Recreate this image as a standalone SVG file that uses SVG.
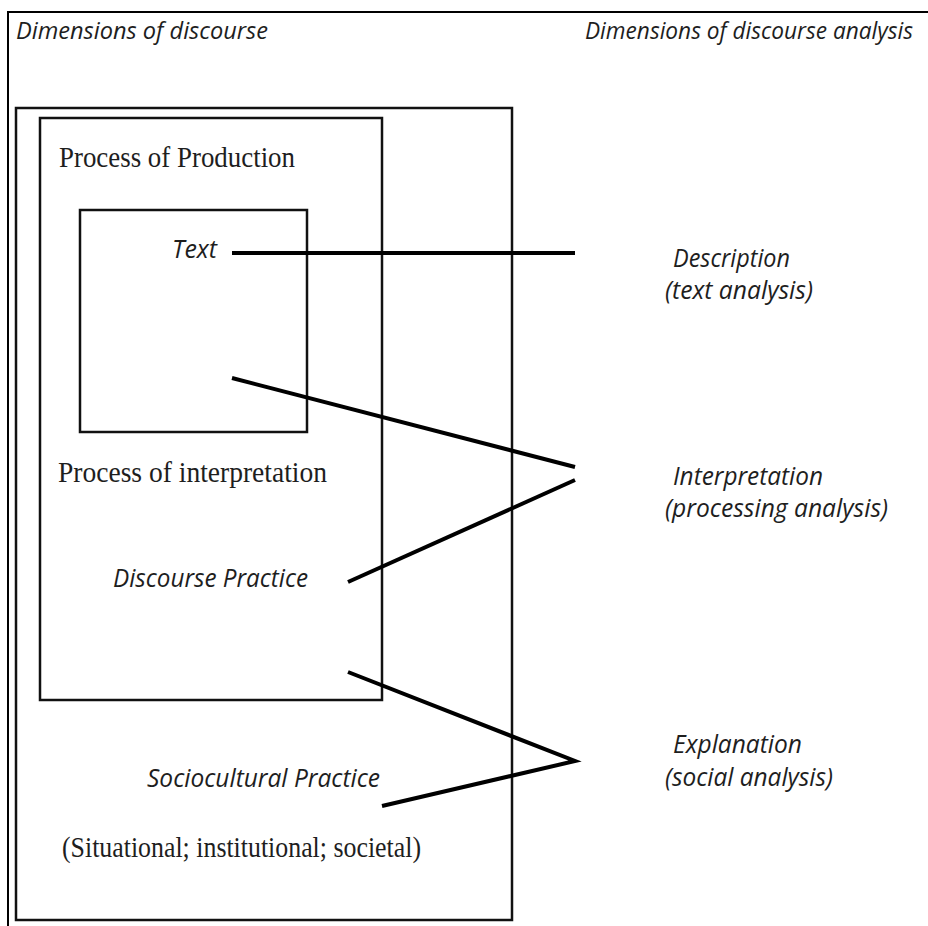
<svg xmlns="http://www.w3.org/2000/svg" width="928" height="926" viewBox="0 0 928 926">
<style>
.box{fill:none;stroke:#111;stroke-width:2.5}
.frame{fill:none;stroke:#000;stroke-width:2}
.con{fill:none;stroke:#000;stroke-width:4;stroke-linejoin:miter;stroke-linecap:butt}
.it{font-family:"Open Sans","Noto Sans",sans-serif;font-style:italic;font-size:25px;fill:#1e1e1e}
.hd{font-size:24px}
.rm{font-family:"Liberation Serif","DejaVu Serif",serif;font-size:29px;fill:#1e1e1e}
</style>
<rect width="928" height="926" fill="#fff"/>
<g id="frame">
<path class="frame" d="M8,926 V12 H928"/>
</g>
<g id="headings">
<text class="it hd" x="16" y="39" textLength="252" lengthAdjust="spacingAndGlyphs">Dimensions of discourse</text>
<text class="it hd" x="585" y="39" textLength="328" lengthAdjust="spacingAndGlyphs">Dimensions of discourse analysis</text>
</g>
<g id="sociocultural-practice">
<rect class="box" x="16" y="108" width="496" height="812"/>
<text class="it" x="147" y="787" textLength="233" lengthAdjust="spacingAndGlyphs">Sociocultural Practice</text>
<text class="rm" x="62" y="857" textLength="359" lengthAdjust="spacingAndGlyphs">(Situational; institutional; societal)</text>
</g>
<g id="discourse-practice">
<rect class="box" x="40" y="118" width="342" height="582"/>
<text class="rm" x="59" y="167" textLength="236" lengthAdjust="spacingAndGlyphs">Process of Production</text>
<text class="rm" x="58" y="482" textLength="269" lengthAdjust="spacingAndGlyphs">Process of interpretation</text>
<text class="it" x="113" y="587" textLength="195" lengthAdjust="spacingAndGlyphs">Discourse Practice</text>
</g>
<g id="text-box">
<rect class="box" x="80" y="210" width="227" height="222"/>
<text class="it" x="172" y="258" textLength="45" lengthAdjust="spacingAndGlyphs">Text</text>
</g>
<g id="description">
<text class="it" x="673" y="267" textLength="117" lengthAdjust="spacingAndGlyphs">Description</text>
<text class="it" x="665" y="299" textLength="148" lengthAdjust="spacingAndGlyphs">(text analysis)</text>
</g>
<g id="interpretation">
<text class="it" x="673" y="485" textLength="150" lengthAdjust="spacingAndGlyphs">Interpretation</text>
<text class="it" x="665" y="517" textLength="223" lengthAdjust="spacingAndGlyphs">(processing analysis)</text>
</g>
<g id="explanation">
<text class="it" x="673" y="753" textLength="129" lengthAdjust="spacingAndGlyphs">Explanation</text>
<text class="it" x="665" y="786" textLength="168" lengthAdjust="spacingAndGlyphs">(social analysis)</text>
</g>
<g id="connectors">
<path class="con" d="M232,253 H575"/>
<path class="con" d="M232,378 L575,467"/>
<path class="con" d="M575,480 L348,582"/>
<path class="con" d="M348,672 L575,761 L382,806"/>
</g>
</svg>
